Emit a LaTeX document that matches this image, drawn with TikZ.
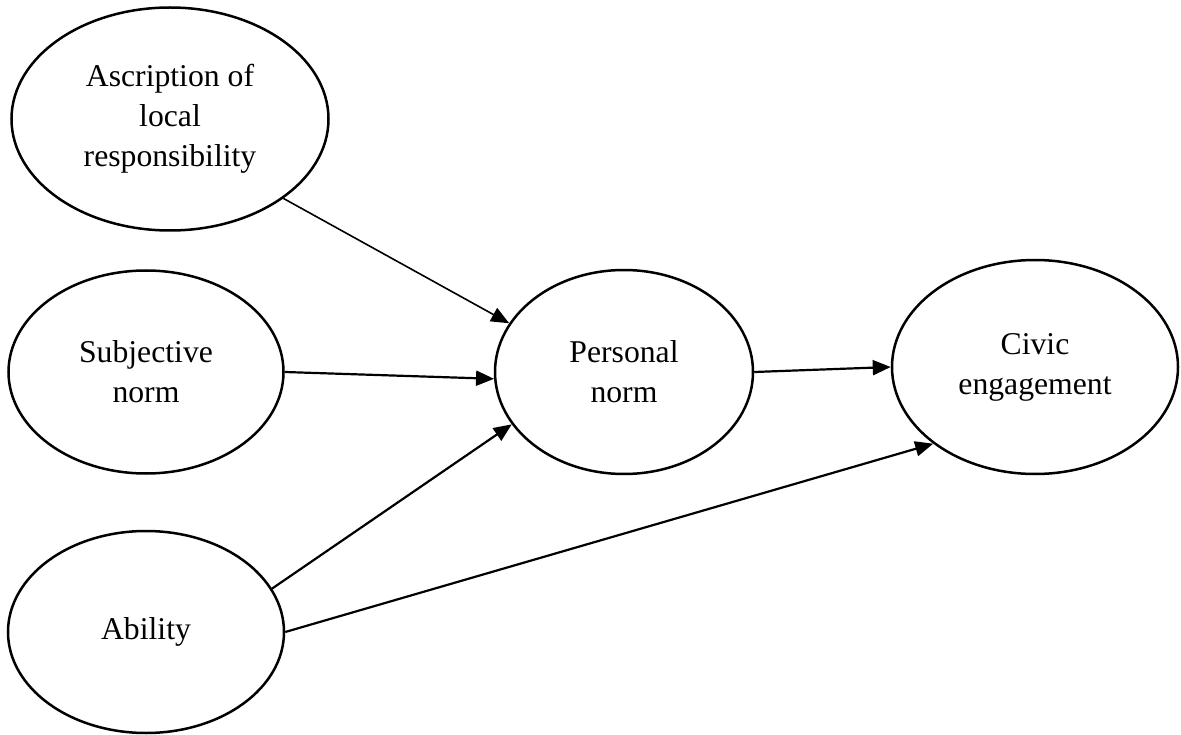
\documentclass[tikz,border=0pt]{standalone}
\usepackage{fontspec}
\setmainfont{Liberation Serif}
\usepackage{tikz}
\usetikzlibrary{arrows.meta,shapes.geometric}

\begin{document}
\begin{tikzpicture}[
latent/.style={ellipse, draw=black, line width=2.5pt, inner sep=0pt, align=center,
  font=\fontsize{31.7pt}{40pt}\selectfont},
>={Triangle[length=18pt,width=15pt]},
node distance=256pt
]
\useasboundingbox (0,0) rectangle (1181pt,-735pt);
%Nodes
\node[latent, minimum width=317pt, minimum height=223pt] (asc) at (170pt,-119pt) {Ascription of\\local\\responsibility};
\node[latent, minimum width=275pt, minimum height=203pt] (sub) [below of =asc, xshift=-24pt, yshift=3pt] {Subjective\\norm};
\node[latent, minimum width=276pt, minimum height=202pt] (abi) [below of =sub, yshift=-4pt] {Ability};
\node[latent, minimum width=258pt, minimum height=204pt] (per) [right of =sub, xshift=222pt] {Personal\\norm};
\node[latent, minimum width=286pt, minimum height=214pt] (civ) [right of =per, xshift=155pt, yshift=5pt] {Civic\\engagement};
%Lines
\draw[->, line width=1.6pt] (asc.-35) -- (per.157);
\draw[->, line width=2.2pt] (sub.east) -- (per.183);
\draw[->, line width=2.2pt] (abi.19) -- (per.205);
\draw[->, line width=2.2pt] (per.east) -- (civ.west);
\draw[->, line width=2.2pt] (abi.east) -- (civ.217);
\end{tikzpicture}
\end{document}
